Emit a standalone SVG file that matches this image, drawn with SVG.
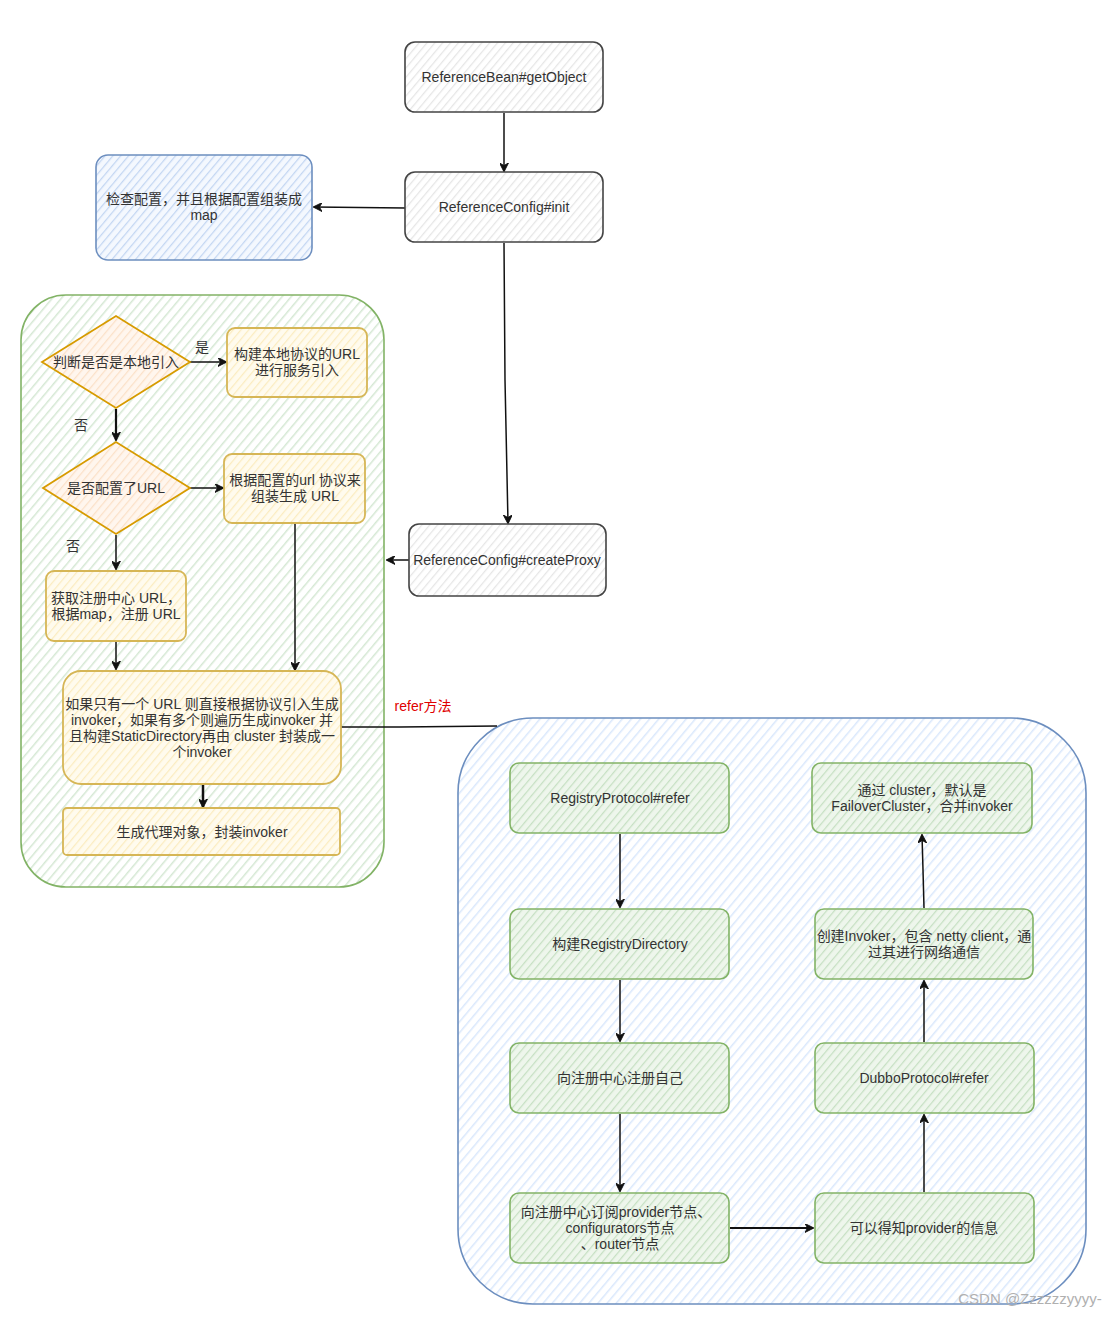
<svg xmlns="http://www.w3.org/2000/svg" width="1114" height="1317" viewBox="0 0 1114 1317">
<style>
text{font-family:"Liberation Sans","Noto Sans CJK SC",sans-serif;font-size:14px;fill:#333;text-anchor:middle}
.gray{fill:url(#hGray);stroke:#444;stroke-width:1.6}
.blue{fill:url(#hBlue);stroke:#6c8ebf;stroke-width:1.6}
.green{fill:url(#hGreen);stroke:#82b366;stroke-width:1.6}
.yellow{fill:url(#hYellow);stroke:#d6b656;stroke-width:1.8}
.orange{fill:url(#hOrange);stroke:#d79b00;stroke-width:1.8}
.cont-green{fill:url(#hGreenL);stroke:#82b366;stroke-width:1.6}
.cont-blue{fill:url(#hBlueL);stroke:#6c8ebf;stroke-width:1.6}
.conn path,.conn line{stroke:#111;stroke-width:1.5;fill:none}
</style>
<defs>
<pattern id="hGray" width="6" height="6" patternUnits="userSpaceOnUse" patternTransform="rotate(40)"><rect width="6" height="6" fill="#fff"/><line x1="0" y1="0" x2="0" y2="6" stroke="#e6e6e6" stroke-width="2.5"/></pattern>
<pattern id="hBlue" width="6" height="6" patternUnits="userSpaceOnUse" patternTransform="rotate(40)"><rect width="6" height="6" fill="#f4f8fe"/><line x1="0" y1="0" x2="0" y2="6" stroke="#c3d6f2" stroke-width="2.5"/></pattern>
<pattern id="hBlueL" width="7" height="7" patternUnits="userSpaceOnUse" patternTransform="rotate(40)"><rect width="7" height="7" fill="#fff"/><line x1="0" y1="0" x2="0" y2="7" stroke="#dae8fc" stroke-width="3"/></pattern>
<pattern id="hGreen" width="6" height="6" patternUnits="userSpaceOnUse" patternTransform="rotate(40)"><rect width="6" height="6" fill="#eef6ec"/><line x1="0" y1="0" x2="0" y2="6" stroke="#c6e0c3" stroke-width="2.5"/></pattern>
<pattern id="hGreenL" width="7" height="7" patternUnits="userSpaceOnUse" patternTransform="rotate(40)"><rect width="7" height="7" fill="#fff"/><line x1="0" y1="0" x2="0" y2="7" stroke="#d5e8d4" stroke-width="3"/></pattern>
<pattern id="hYellow" width="6" height="6" patternUnits="userSpaceOnUse" patternTransform="rotate(40)"><rect width="6" height="6" fill="#fffbee"/><line x1="0" y1="0" x2="0" y2="6" stroke="#fbecc0" stroke-width="2.5"/></pattern>
<pattern id="hOrange" width="6" height="6" patternUnits="userSpaceOnUse" patternTransform="rotate(40)"><rect width="6" height="6" fill="#fff6ee"/><line x1="0" y1="0" x2="0" y2="6" stroke="#fbe1c8" stroke-width="2.5"/></pattern>
<marker id="arr" viewBox="0 0 10 10" refX="9" refY="5" markerWidth="9" markerHeight="9" markerUnits="userSpaceOnUse" orient="auto"><path d="M0,0 L10,5 L0,10 L3,5 z" fill="#111" stroke="#111" stroke-width="1"/></marker>
</defs>

<rect width="1114" height="1317" fill="#fff"/>

<!-- containers -->
<g id="container-green"><rect class="cont-green" x="21" y="295" width="363" height="592" rx="45"/></g>
<g id="container-blue"><rect class="cont-blue" x="458" y="718" width="628" height="586" rx="75"/></g>

<g class="conn" id="connectors">
<line x1="504" y1="113" x2="504" y2="171" marker-end="url(#arr)"/>
<line x1="405" y1="208" x2="314" y2="207" marker-end="url(#arr)"/>
<path d="M504,243 L505,380 L508,523" marker-end="url(#arr)"/>
<line x1="409" y1="560" x2="387" y2="560" marker-end="url(#arr)"/>
<line x1="190" y1="362" x2="226" y2="362" marker-end="url(#arr)"/>
<line x1="116" y1="409" x2="116" y2="440" marker-end="url(#arr)" style="stroke-width:2.2"/>
<line x1="190" y1="488" x2="223" y2="488" marker-end="url(#arr)"/>
<line x1="116" y1="535" x2="116" y2="569" marker-end="url(#arr)"/>
<line x1="116" y1="642" x2="116" y2="669" marker-end="url(#arr)"/>
<line x1="295" y1="524" x2="295" y2="670" marker-end="url(#arr)"/>
<line x1="203" y1="785" x2="203" y2="807" marker-end="url(#arr)" style="stroke-width:2.5"/>
<path d="M341,727 L400,727 L497,726"/>
<line x1="620" y1="834" x2="620" y2="907" marker-end="url(#arr)"/>
<line x1="620" y1="980" x2="620" y2="1041" marker-end="url(#arr)"/>
<line x1="620" y1="1114" x2="620" y2="1191" marker-end="url(#arr)"/>
<line x1="730" y1="1228" x2="813" y2="1228" marker-end="url(#arr)" style="stroke-width:2"/>
<line x1="924" y1="1192" x2="924" y2="1115" marker-end="url(#arr)"/>
<line x1="924" y1="1042" x2="924" y2="981" marker-end="url(#arr)"/>
<path d="M924,908 L923,870 L922,835" marker-end="url(#arr)"/>
</g>

<g id="labels">
<text x="202" y="352">是</text>
<text x="81" y="430">否</text>
<text x="73" y="551">否</text>
<text x="423" y="711" style="fill:#e00000">refer方法</text>
</g>

<g id="n-getObject"><rect class="gray" x="405" y="42" width="198" height="70" rx="10"/><text x="504" y="82">ReferenceBean#getObject</text></g>
<g id="n-init"><rect class="gray" x="405" y="172" width="198" height="70" rx="10"/><text x="504" y="212">ReferenceConfig#init</text></g>
<g id="n-check"><rect class="blue" x="96" y="155" width="216" height="105" rx="12"/><text x="204" y="204">检查配置，并且根据配置组装成</text><text x="204" y="220">map</text></g>
<g id="n-createProxy"><rect class="gray" x="409" y="524" width="197" height="72" rx="10"/><text x="507" y="565">ReferenceConfig#createProxy</text></g>

<g id="n-isLocal"><path class="orange" d="M42,362 L116,316 L190,362 L116,408 Z"/><text x="116" y="367">判断是否是本地引入</text></g>
<g id="n-localURL"><rect class="yellow" x="227" y="328" width="140" height="69" rx="8"/><text x="297" y="359">构建本地协议的URL</text><text x="297" y="375">进行服务引入</text></g>
<g id="n-hasURL"><path class="orange" d="M43,488 L116,442 L190,488 L116,534 Z"/><text x="116" y="493">是否配置了URL</text></g>
<g id="n-buildURL"><rect class="yellow" x="224" y="454" width="141" height="69" rx="8"/><text x="295" y="485">根据配置的url 协议来</text><text x="295" y="501">组装生成 URL</text></g>
<g id="n-registryURL"><rect class="yellow" x="46" y="571" width="140" height="70" rx="8"/><text x="116" y="603">获取注册中心 URL，</text><text x="116" y="619">根据map，注册 URL</text></g>
<g id="n-invoker"><rect class="yellow" x="63" y="671" width="278" height="113" rx="18"/><text x="202" y="709">如果只有一个 URL 则直接根据协议引入生成</text><text x="202" y="725">invoker，如果有多个则遍历生成invoker 并</text><text x="202" y="741">且构建StaticDirectory再由 cluster 封装成一</text><text x="202" y="757">个invoker</text></g>
<g id="n-proxy"><rect class="yellow" x="63" y="808" width="277" height="47" rx="4"/><text x="202" y="837">生成代理对象，封装invoker</text></g>

<g id="n-registryRefer"><rect class="green" x="510" y="763" width="219" height="70" rx="9"/><text x="620" y="803">RegistryProtocol#refer</text></g>
<g id="n-registryDir"><rect class="green" x="510" y="909" width="219" height="70" rx="9"/><text x="620" y="949">构建RegistryDirectory</text></g>
<g id="n-register"><rect class="green" x="510" y="1043" width="219" height="70" rx="9"/><text x="620" y="1083">向注册中心注册自己</text></g>
<g id="n-subscribe"><rect class="green" x="510" y="1193" width="219" height="70" rx="9"/><text x="616" y="1217">向注册中心订阅provider节点、</text><text x="620" y="1233">configurators节点</text><text x="620" y="1249">、router节点</text></g>
<g id="n-provider"><rect class="green" x="815" y="1193" width="219" height="70" rx="9"/><text x="924" y="1233">可以得知provider的信息</text></g>
<g id="n-dubboRefer"><rect class="green" x="815" y="1043" width="219" height="70" rx="9"/><text x="924" y="1083">DubboProtocol#refer</text></g>
<g id="n-createInvoker"><rect class="green" x="815" y="909" width="218" height="70" rx="9"/><text x="924" y="941">创建Invoker，包含 netty client，通</text><text x="924" y="957">过其进行网络通信</text></g>
<g id="n-cluster"><rect class="green" x="812" y="763" width="220" height="70" rx="9"/><text x="922" y="795">通过 cluster，默认是</text><text x="922" y="811">FailoverCluster，合并invoker</text></g>

<text x="1030" y="1304" style="fill:#b0b0b0;font-size:15px">CSDN @Zzzzzzyyyy-</text>
</svg>
